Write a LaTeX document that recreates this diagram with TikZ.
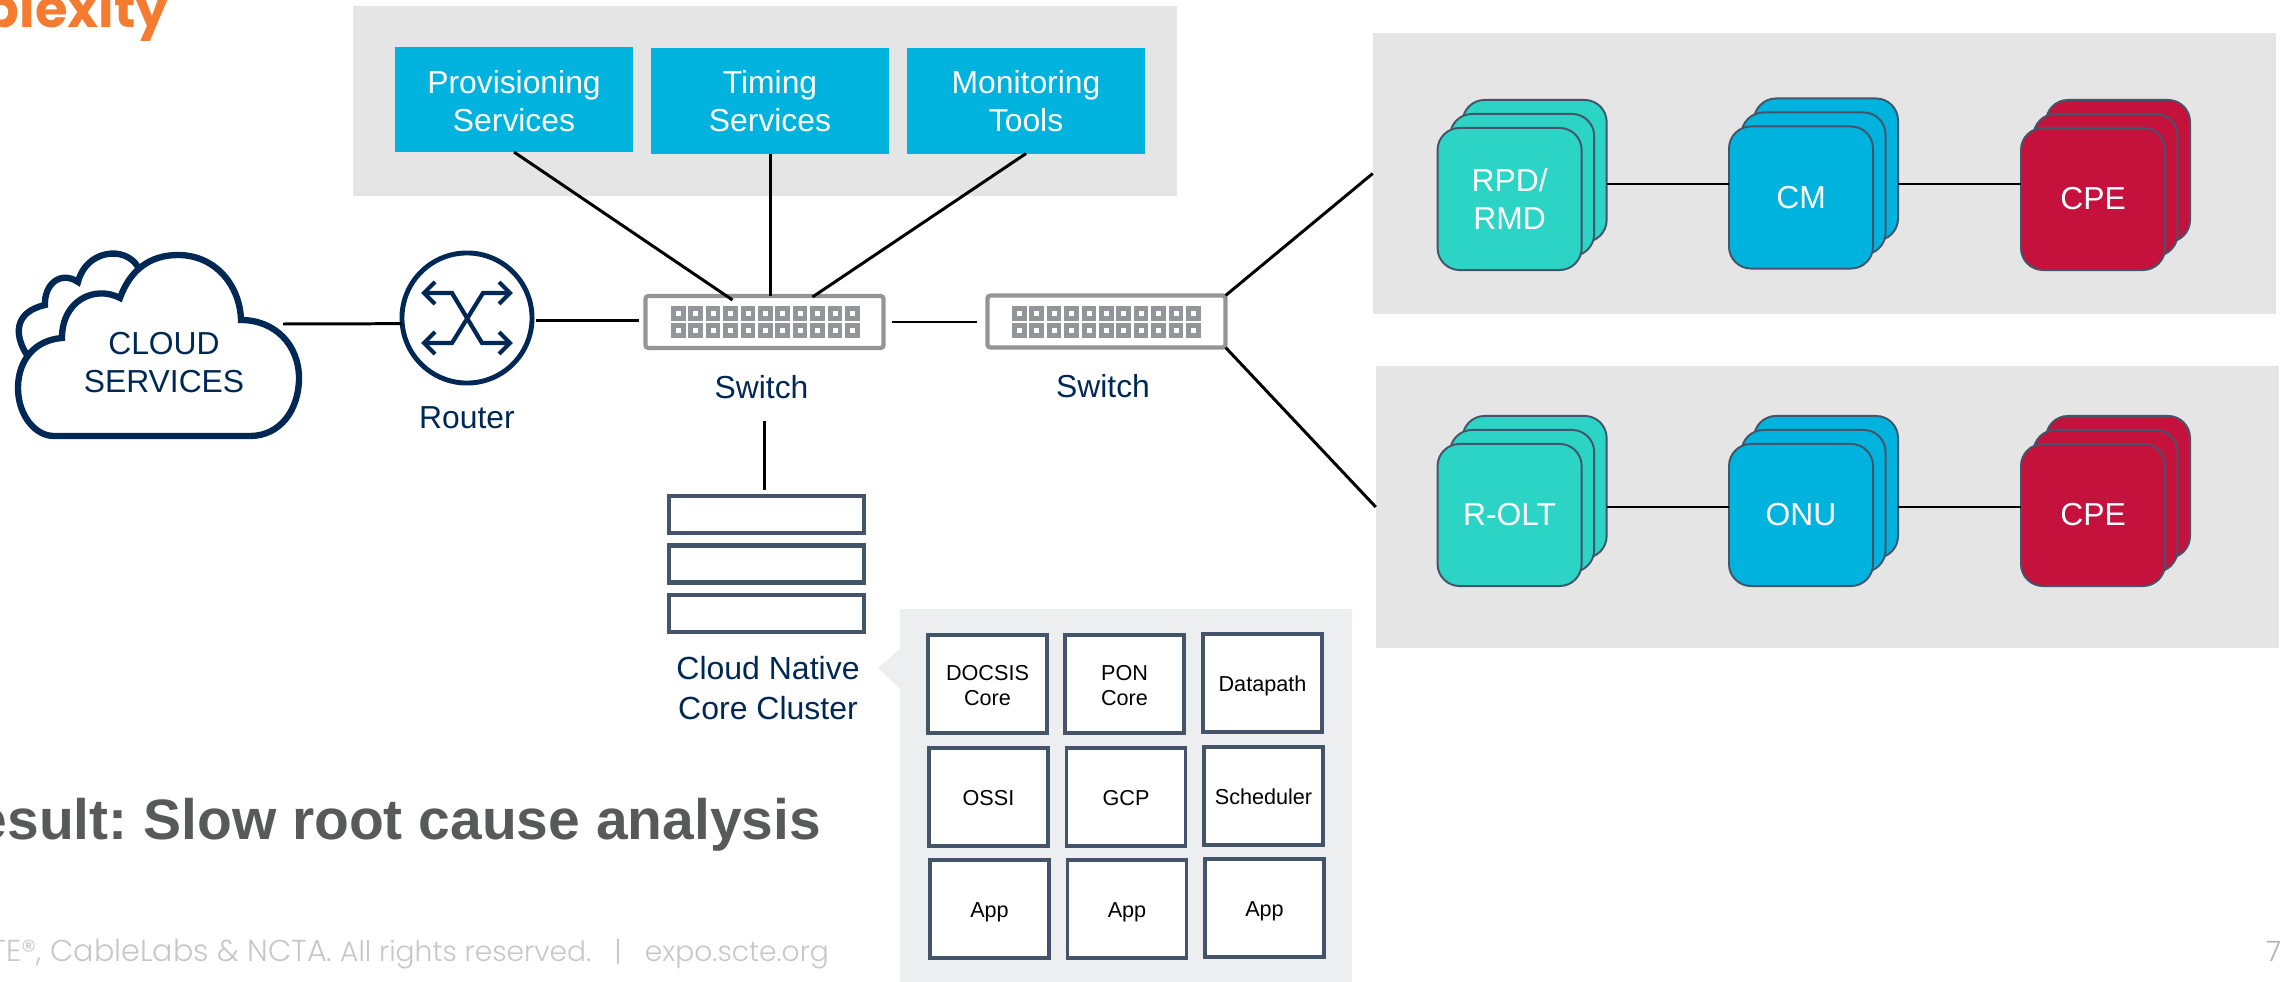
\documentclass[tikz,border=0pt]{standalone}
\usepackage{fontspec}
\setmainfont{Liberation Sans}
\newfontfamily\footfont{Poppins}[UprightFont=* Light]
\newfontfamily\headfont{Poppins}
\usepackage{xcolor}
\usetikzlibrary{positioning, calc}
\definecolor{navy}{HTML}{002855}
\definecolor{cyanbox}{HTML}{00B3DE}
\definecolor{tealbox}{HTML}{2BD4C5}
\definecolor{redbox}{HTML}{C4123C}
\definecolor{slateline}{HTML}{44546A}
\definecolor{panelgray}{HTML}{E5E5E5}
\definecolor{popgray}{HTML}{ECEEF0}
\definecolor{portgray}{HTML}{939598}
\definecolor{headorange}{HTML}{F47B30}
\definecolor{resultgray}{HTML}{58595B}
\newcommand{\lowered}[2][1pt]{\raisebox{-#1}[\height][\depth]{\begin{tabular}{@{}c@{}}#2\end{tabular}}}

\begin{document}
\frenchspacing
\begin{tikzpicture}[
    x=0.01cm, y=-0.01cm,
    every node/.style={align=center, inner sep=0pt, outer sep=0pt, font=\fontsize{9.05}{10.8}\selectfont},
    panel/.style={fill=panelgray, minimum width=#1},
    service/.style={fill=cyanbox, text=white, minimum width=2.38cm, minimum height=1.05cm},
    card/.style={draw=slateline, line width=0.55pt, rounded corners=0.22cm, text=white, minimum width=1.44cm, minimum height=1.42cm},
    switchbox/.style={draw=portgray, line width=1.2pt, rounded corners=0.03cm, minimum width=2.38cm, minimum height=0.52cm},
    rack/.style={draw=slateline, line width=1.2pt, minimum width=1.95cm, minimum height=0.37cm},
    cell/.style={draw=slateline, fill=white, line width=1.1pt, minimum width=1.19cm, minimum height=0.98cm, font=\fontsize{6.15}{7.2}\selectfont},
    caption/.style={text=navy},
    link/.style={line width=0.85pt}
]
\useasboundingbox (0,0) rectangle (2288,982);
\clip (0,0) rectangle (2288,982);

% page texts
\node[anchor=base east, text=headorange, font=\headfont\bfseries\fontsize{15}{15}\selectfont] (heading) at (169,28) {plexity};
\node[anchor=base east, text=resultgray, font=\bfseries\fontsize{16.2}{18}\selectfont] (result) at (821,839) {esult: Slow root cause analysis};
\node[anchor=base east, text=black!22, font=\footfont\fontsize{8}{9}\selectfont] (footer) at (829,961) {{\fontsize{8.6}{9}\selectfont TE®, CableLabs \& NCTA.} All rights reserved.\ \ \ |\ \ \ expo.scte.org};
\node[anchor=base east, text=black!30, font=\footfont\fontsize{8}{9}\selectfont] (pagenum) at (2281,961) {7};

% grey panels
\node[panel=8.24cm, minimum height=1.9cm] (toppanel) at (765,101) {};
\node[panel=9.03cm, minimum height=2.81cm] (docsispanel) at (1824.5,173.5) {};
\node[panel=9.03cm, minimum height=2.82cm] (ponpanel) at (1827.5,507) {};

% services
\node[service] (prov) at (514,99.5) {\lowered[1.6pt]{Provisioning\\Services}};
\node[service] (timing) at (770,101) {Timing\\Services};
\node[service] (monitor) at (1026,101) {Monitoring\\Tools};

% cloud
\begin{scope}[draw=navy, line width=1.8pt]
\draw (27,355) .. controls (14,335) and (14,312) .. (45,305)
    .. controls (44,285) and (60,270) .. (78,282)
    .. controls (86,250) and (125,245) .. (138,267);
\draw[fill=white] (54,436) -- (250,436)
    .. controls (280,436) and (299,410) .. (299,378)
    .. controls (299,345) and (275,320) .. (241,320)
    .. controls (240,285) and (215,255) .. (178,255)
    .. controls (150,255) and (130,270) .. (120,298)
    .. controls (95,285) and (62,300) .. (62,338)
    .. controls (35,340) and (18,360) .. (18,388)
    .. controls (18,415) and (35,436) .. (54,436) -- cycle;
\end{scope}
\node[caption] (cloud) at (164,362.5) {CLOUD\\SERVICES};

% router
\node[draw=navy, line width=1.4pt, circle, minimum size=1.3cm] (router) at (467,318) {};
\node[caption, below=0.24cm of router] (routerlabel) {Router};
\draw[navy, line width=1.2pt] (424,293) -- (452,293) -- (482,343) -- (510,343);
\draw[navy, line width=1.2pt] (510,293) -- (483,293) -- (452,343) -- (424,343);
\foreach \tipx/\tipy/\dir in {424/293/1, 510/293/-1, 424/343/1, 510/343/-1}
    \draw[navy, line width=1.2pt] (\tipx+\dir*11,\tipy-11) -- (\tipx,\tipy) -- (\tipx+\dir*11,\tipy+11);

% switches
\node[switchbox] (sw1) at (764.5,322) {};
\node[switchbox] (sw2) at (1106.5,321.5) {};
\node[caption] (sw1label) at (761.5,387) {Switch};
\node[caption] (sw2label) at (1103,386) {Switch};
\foreach \startx in {671,1012}
    \foreach \col in {0,...,10}
        \foreach \rowy in {306,323} {
            \fill[portgray] (\startx+\col*17.4,\rowy) rectangle ++(14.5,15);
            \fill[white] (\startx+\col*17.4+5,\rowy+5) rectangle ++(5,5);
        }

% cluster
\node[rack] (rack1) at (766.5,514.5) {};
\node[rack] (rack2) at (766.5,564) {};
\node[rack] (rack3) at (766.5,613.5) {};
\node[caption, font=\fontsize{9.1}{11.2}\selectfont] (racklabel) at (768,688) {Cloud Native\\Core Cluster};

% stacked cards
\foreach \name/\posx/\posy/\shade/\txt in {
    rpd/1509.6/199/tealbox/{RPD/\\RMD},
    cm/1801/197.5/cyanbox/CM,
    cpea/2093/199/redbox/CPE,
    rolt/1509.6/515/tealbox/R-OLT,
    onu/1801/515/cyanbox/ONU,
    cpeb/2093/515/redbox/CPE} {
    \node[card, fill=\shade] (\name back) at (\posx+25,\posy-28) {};
    \node[card, fill=\shade] (\name mid) at (\posx+12.5,\posy-14) {};
    \node[card, fill=\shade] (\name) at (\posx,\posy) {\txt};
}

% connectors
\draw[link] (283,324) coordinate (cloudport) -- (router.185);
\draw[link, shorten <=0.04cm, shorten >=0.06cm] (router.358) -- (router.358 -| sw1.west);
\draw[link, shorten <=0.08cm, shorten >=0.1cm] (sw1.east) -- (sw1.east -| sw2.west);
\draw[link] (prov.south) -- ($(sw1.north)+(-32,4)$);
\draw[link] (timing.south) -- (timing.south |- sw1.north);
\draw[link] (monitor.south) -- ($(sw1.north)+(48,1)$);
\draw[link, shorten <=0.73cm, shorten >=0.06cm] (sw1.south) -- (sw1.south |- rack1.north);
\draw[link] (sw2.north east) -- (docsispanel.west);
\draw[link] (sw2.south east) -- (ponpanel.west);
\draw[link] ($(rpdback.east)+(0,13)$) -- ($(cm.west)+(0,-13.5)$);
\draw[link] ($(cmback.east)+(0,14.5)$) -- ($(cpea.west)+(0,-15)$);
\draw[link] ($(roltback.east)+(0,20)$) -- ($(onu.west)+(0,-8)$);
\draw[link] ($(onuback.east)+(0,20)$) -- ($(cpeb.west)+(0,-8)$);

% callout
\fill[popgray] (900,609) -- (1352,609) -- (1352,982) -- (900,982) -- (900,689) -- (878,668) -- (900,649) -- cycle;
\foreach \name/\posx/\posy/\txt in {
    docsis/987.5/684/{DOCSIS\\Core},
    pon/1124.5/684/{PON\\Core},
    datapath/1262.5/683/Datapath,
    ossi/988.5/797/OSSI,
    gcp/1126/797/GCP,
    sched/1263.5/796/Scheduler,
    appa/989.5/909/App,
    appb/1127/909/App,
    appc/1264.5/908/App}
    \node[cell] (\name) at (\posx,\posy) {\lowered[1.1pt]{\txt}};
\end{tikzpicture}
\end{document}
